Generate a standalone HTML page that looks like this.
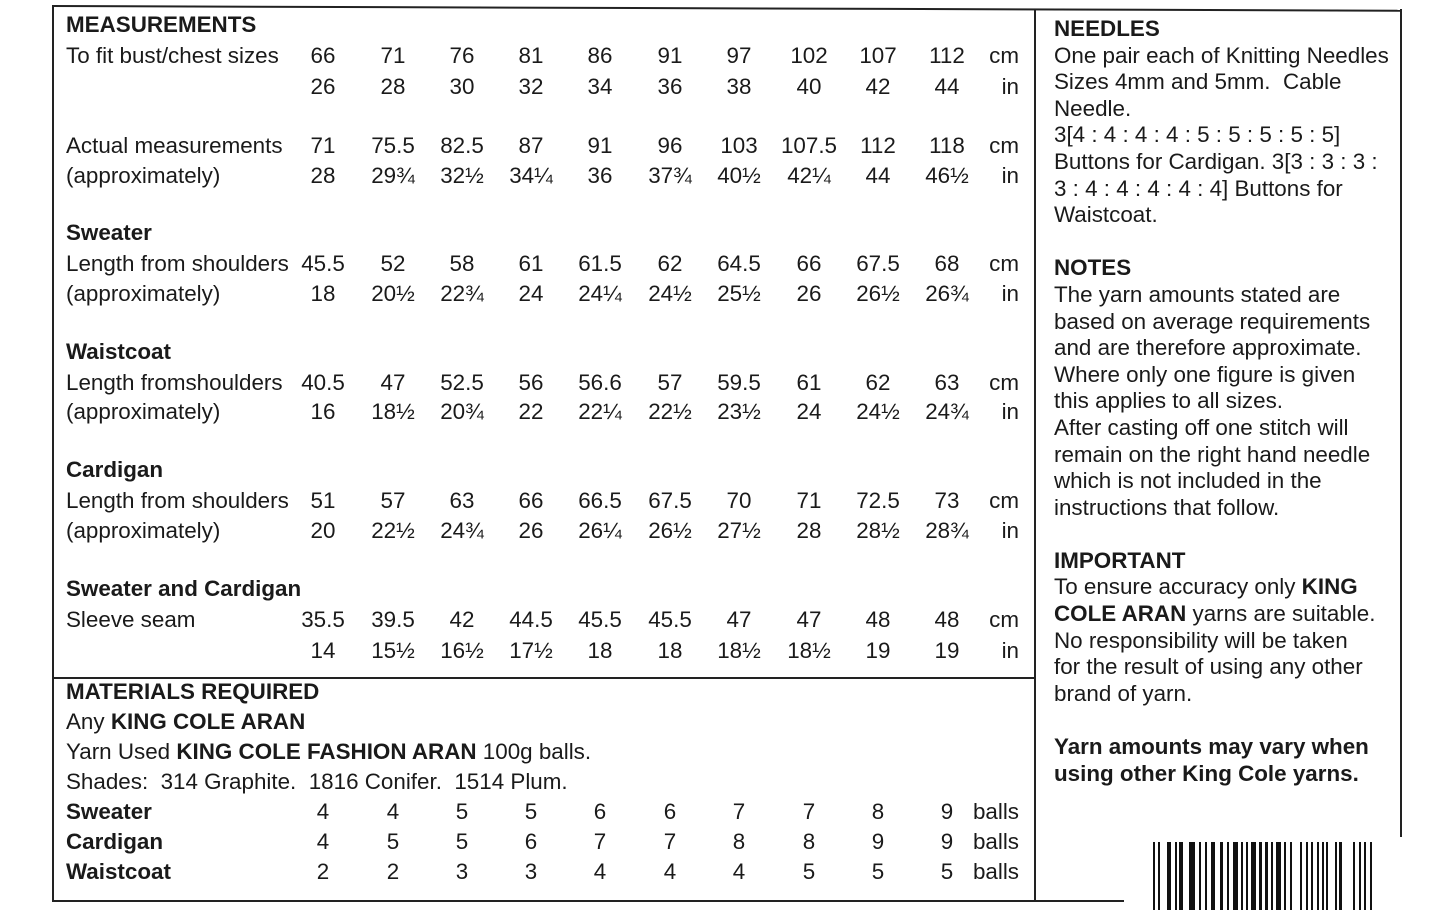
<!DOCTYPE html>
<html><head><meta charset="utf-8"><style>
body{margin:0;width:1445px;height:910px;background:#fff;position:relative;overflow:hidden;font-family:"Liberation Sans",Arial,sans-serif;color:#1a1a1a;font-size:22.4px}
.ln{position:absolute;background:#222}
.r{position:absolute;left:0;width:1035px;height:26px;line-height:26px}
.r span{position:absolute;width:60px;text-align:center;top:0}
.r span:nth-child(1){left:66px;width:auto;text-align:left;white-space:nowrap}
.r span:nth-child(2){left:293px}.r span:nth-child(3){left:363px}.r span:nth-child(4){left:432px}
.r span:nth-child(5){left:501px}.r span:nth-child(6){left:570px}.r span:nth-child(7){left:640px}
.r span:nth-child(8){left:709px}.r span:nth-child(9){left:779px}.r span:nth-child(10){left:848px}
.r span:nth-child(11){left:917px}.r span:nth-child(12){left:960px;width:59px;text-align:right}
b{font-weight:bold}
.t{position:absolute;left:66px;height:26px;line-height:26px;white-space:nowrap}
.rt{position:absolute;left:1054px;width:380px;line-height:26.6px;top:16px;white-space:nowrap}
.bc{position:absolute;top:842px;height:68px;background:#111}
</style></head><body>
<div class="ln" style="left:52px;top:5px;width:1349px;height:2px;transform:rotate(0.2deg);transform-origin:0 0"></div>
<div class="ln" style="left:52px;top:5px;width:2px;height:897px"></div>
<div class="ln" style="left:1034px;top:9px;width:2px;height:893px"></div>
<div class="ln" style="left:1400px;top:9px;width:2px;height:828px"></div>
<div class="ln" style="left:52px;top:677px;width:983px;height:2px"></div>
<div class="ln" style="left:52px;top:900px;width:1072px;height:2px"></div>

<div class="t" style="top:12px"><b>MEASUREMENTS</b></div>
<div class="r" style="top:43px"><span>To fit bust/chest sizes</span><span>66</span><span>71</span><span>76</span><span>81</span><span>86</span><span>91</span><span>97</span><span>102</span><span>107</span><span>112</span><span>cm</span></div>
<div class="r" style="top:74px"><span></span><span>26</span><span>28</span><span>30</span><span>32</span><span>34</span><span>36</span><span>38</span><span>40</span><span>42</span><span>44</span><span>in</span></div>
<div class="r" style="top:133px"><span>Actual measurements</span><span>71</span><span>75.5</span><span>82.5</span><span>87</span><span>91</span><span>96</span><span>103</span><span>107.5</span><span>112</span><span>118</span><span>cm</span></div>
<div class="r" style="top:163px"><span>(approximately)</span><span>28</span><span>29¾</span><span>32½</span><span>34¼</span><span>36</span><span>37¾</span><span>40½</span><span>42¼</span><span>44</span><span>46½</span><span>in</span></div>
<div class="t" style="top:220px"><b>Sweater</b></div>
<div class="r" style="top:251px"><span>Length from shoulders</span><span>45.5</span><span>52</span><span>58</span><span>61</span><span>61.5</span><span>62</span><span>64.5</span><span>66</span><span>67.5</span><span>68</span><span>cm</span></div>
<div class="r" style="top:281px"><span>(approximately)</span><span>18</span><span>20½</span><span>22¾</span><span>24</span><span>24¼</span><span>24½</span><span>25½</span><span>26</span><span>26½</span><span>26¾</span><span>in</span></div>
<div class="t" style="top:339px"><b>Waistcoat</b></div>
<div class="r" style="top:370px"><span>Length fromshoulders</span><span>40.5</span><span>47</span><span>52.5</span><span>56</span><span>56.6</span><span>57</span><span>59.5</span><span>61</span><span>62</span><span>63</span><span>cm</span></div>
<div class="r" style="top:399px"><span>(approximately)</span><span>16</span><span>18½</span><span>20¾</span><span>22</span><span>22¼</span><span>22½</span><span>23½</span><span>24</span><span>24½</span><span>24¾</span><span>in</span></div>
<div class="t" style="top:457px"><b>Cardigan</b></div>
<div class="r" style="top:488px"><span>Length from shoulders</span><span>51</span><span>57</span><span>63</span><span>66</span><span>66.5</span><span>67.5</span><span>70</span><span>71</span><span>72.5</span><span>73</span><span>cm</span></div>
<div class="r" style="top:518px"><span>(approximately)</span><span>20</span><span>22½</span><span>24¾</span><span>26</span><span>26¼</span><span>26½</span><span>27½</span><span>28</span><span>28½</span><span>28¾</span><span>in</span></div>
<div class="t" style="top:576px"><b>Sweater and Cardigan</b></div>
<div class="r" style="top:607px"><span>Sleeve seam</span><span>35.5</span><span>39.5</span><span>42</span><span>44.5</span><span>45.5</span><span>45.5</span><span>47</span><span>47</span><span>48</span><span>48</span><span>cm</span></div>
<div class="r" style="top:638px"><span></span><span>14</span><span>15½</span><span>16½</span><span>17½</span><span>18</span><span>18</span><span>18½</span><span>18½</span><span>19</span><span>19</span><span>in</span></div>

<div class="t" style="top:679px"><b>MATERIALS REQUIRED</b></div>
<div class="t" style="top:709px">Any <b>KING COLE ARAN</b></div>
<div class="t" style="top:739px">Yarn Used <b>KING COLE FASHION ARAN</b> 100g balls.</div>
<div class="t" style="top:769px">Shades:&nbsp; 314 Graphite.&nbsp; 1816 Conifer.&nbsp; 1514 Plum.</div>
<div class="r" style="top:799px"><span><b>Sweater</b></span><span>4</span><span>4</span><span>5</span><span>5</span><span>6</span><span>6</span><span>7</span><span>7</span><span>8</span><span>9</span><span>balls</span></div>
<div class="r" style="top:829px"><span><b>Cardigan</b></span><span>4</span><span>5</span><span>5</span><span>6</span><span>7</span><span>7</span><span>8</span><span>8</span><span>9</span><span>9</span><span>balls</span></div>
<div class="r" style="top:859px"><span><b>Waistcoat</b></span><span>2</span><span>2</span><span>3</span><span>3</span><span>4</span><span>4</span><span>4</span><span>5</span><span>5</span><span>5</span><span>balls</span></div>

<div class="rt">
<b>NEEDLES</b><br>One pair each of Knitting Needles<br>Sizes 4mm and 5mm.&nbsp; Cable<br>Needle.<br>3[4 : 4 : 4 : 4 : 5 : 5 : 5 : 5 : 5]<br>Buttons for Cardigan. 3[3 : 3 : 3 :<br>3 : 4 : 4 : 4 : 4 : 4] Buttons for<br>Waistcoat.<br><br>
<b>NOTES</b><br>The yarn amounts stated are<br>based on average requirements<br>and are therefore approximate.<br>Where only one figure is given<br>this applies to all sizes.<br>After casting off one stitch will<br>remain on the right hand needle<br>which is not included in the<br>instructions that follow.<br><br>
<b>IMPORTANT</b><br>To ensure accuracy only <b>KING<br>COLE ARAN</b> yarns are suitable.<br>No responsibility will be taken<br>for the result of using any other<br>brand of yarn.<br><br>
<b>Yarn amounts may vary when<br>using other King Cole yarns.</b>
</div>

<div class="bc" style="left:1153px;width:2px"></div><div class="bc" style="left:1158px;width:2px"></div>
<div class="bc" style="left:1167px;width:4px"></div><div class="bc" style="left:1175px;width:2px"></div>
<div class="bc" style="left:1179px;width:4px"></div><div class="bc" style="left:1189px;width:6px"></div>
<div class="bc" style="left:1199px;width:2px"></div><div class="bc" style="left:1205px;width:2px"></div>
<div class="bc" style="left:1211px;width:4px"></div><div class="bc" style="left:1220px;width:3px"></div>
<div class="bc" style="left:1227px;width:2px"></div><div class="bc" style="left:1233px;width:5px"></div>
<div class="bc" style="left:1241px;width:2px"></div><div class="bc" style="left:1246px;width:2px"></div>
<div class="bc" style="left:1251px;width:5px"></div><div class="bc" style="left:1259px;width:3px"></div>
<div class="bc" style="left:1265px;width:3px"></div><div class="bc" style="left:1271px;width:2px"></div>
<div class="bc" style="left:1276px;width:5px"></div><div class="bc" style="left:1284px;width:2px"></div>
<div class="bc" style="left:1290px;width:2px"></div><div class="bc" style="left:1300px;width:2px"></div>
<div class="bc" style="left:1306px;width:2px"></div><div class="bc" style="left:1311px;width:2px"></div>
<div class="bc" style="left:1317px;width:2px"></div><div class="bc" style="left:1322px;width:2px"></div>
<div class="bc" style="left:1326px;width:2px"></div><div class="bc" style="left:1335px;width:2px"></div>
<div class="bc" style="left:1339px;width:3px"></div><div class="bc" style="left:1353px;width:2px"></div>
<div class="bc" style="left:1359px;width:2px"></div><div class="bc" style="left:1364px;width:2px"></div>
<div class="bc" style="left:1370px;width:2px"></div>
</body></html>
